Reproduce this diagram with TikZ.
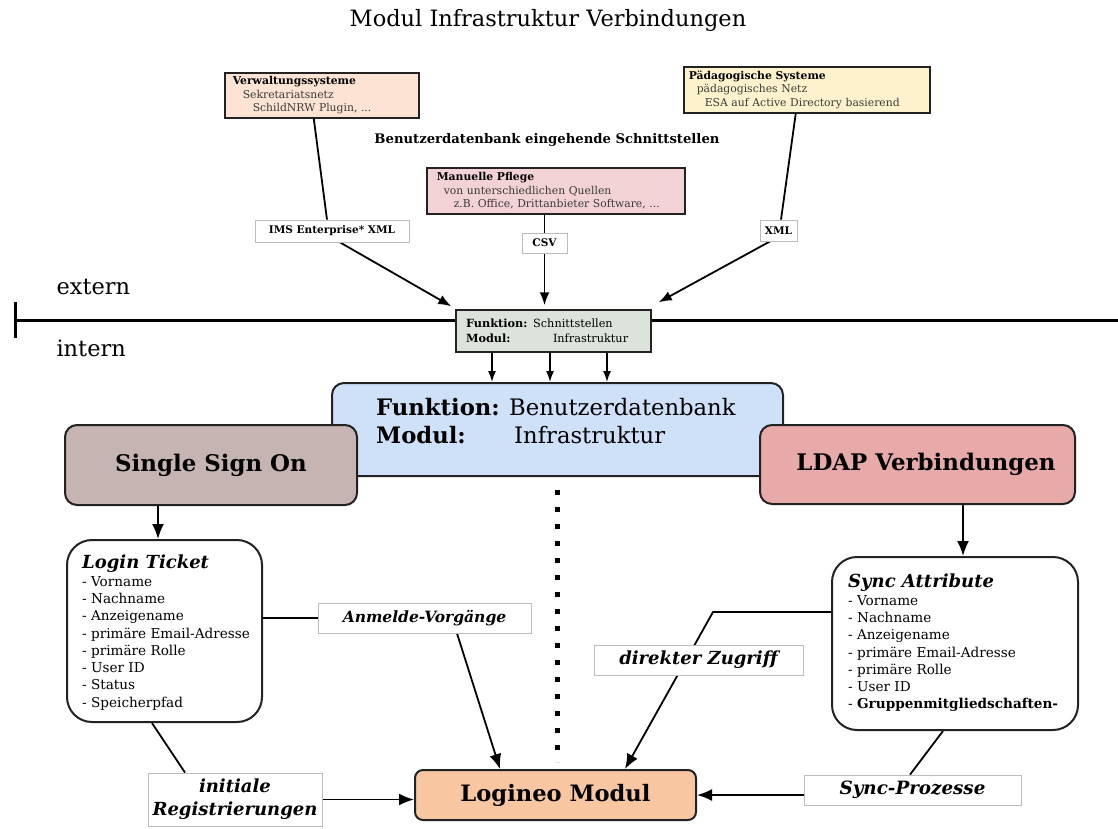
\documentclass[tikz,border=0pt]{standalone}
\usepackage{fontspec}
\setmainfont{DejaVu Serif}
\usetikzlibrary{arrows.meta,calc}
\definecolor{verwC}{HTML}{FCE3D3}
\definecolor{manC}{HTML}{F2D2D4}
\definecolor{paedC}{HTML}{FEF2CC}
\definecolor{schnittC}{HTML}{DCE3DB}
\definecolor{bdbC}{HTML}{CFE1F9}
\definecolor{ssoC}{HTML}{C5B4B2}
\definecolor{ldapC}{HTML}{E8A9A9}
\definecolor{logC}{HTML}{F9C6A2}
\definecolor{boxline}{HTML}{222222}
\definecolor{subtext}{HTML}{3A3A3A}
\definecolor{lblline}{HTML}{BBBBBB}
\pgfdeclarelayer{bg}
\pgfsetlayers{bg,main}
\begin{document}
\begin{tikzpicture}[x=1pt,y=-1pt,
  smallbox/.style={draw=boxline, line width=1.5pt, inner ysep=0pt, anchor=north west, align=left,
    font=\fontsize{10.8}{13.5}\selectfont},
  toplabel/.style={draw=lblline, line width=0.8pt, fill=white, inner sep=0pt,
    font=\fontsize{10.5}{12}\selectfont\bfseries},
  biglabel/.style={draw=lblline, line width=0.8pt, fill=white, inner sep=0pt, align=center,
    font=\fontsize{#1}{23}\selectfont\bfseries\itshape},
  mainbox/.style={draw=boxline, line width=2pt, rounded corners=12pt, inner sep=0pt},
  listbox/.style={draw=boxline, line width=2pt, fill=white, rounded corners=25pt, inner sep=0pt},
  listtext/.style={anchor=north west, inner sep=0pt, align=left, font=\fontsize{13.6}{17.3}\selectfont},
  conn/.style={line width=1.8pt, draw=black},
  bigarrow/.style={conn, -{Latex[length=15pt,width=12pt]}},
  smallarrow/.style={conn, -{Latex[length=13pt,width=10pt]}},
  tinyarrow/.style={line width=1.5pt, -{Latex[length=11pt,width=8pt]}}
]
\useasboundingbox (0,0) rectangle (1118,828);

% title
\node (title) at (548,20) {\fontsize{22.5}{26}\selectfont Modul Infrastruktur Verbindungen};

% source boxes
\node[smallbox, fill=verwC, inner xsep=8pt, text width=178pt, minimum height=45pt] (verw) at (224,72)
  {\textbf{Verwaltungssysteme}\\\color{subtext}\hspace*{10pt}Sekretariatsnetz\\\color{subtext}\hspace*{20pt}SchildNRW Plugin, ...};
\node[smallbox, fill=manC, inner xsep=10pt, text width=238pt, minimum height=46pt] (man) at (426,167)
  {\textbf{Manuelle Pflege}\\\color{subtext}\hspace*{7pt}von unterschiedlichen Quellen\\\color{subtext}\hspace*{17pt}z.B. Office, Drittanbieter Software, ...};
\node[smallbox, fill=paedC, inner xsep=5pt, text width=236pt, minimum height=46pt] (paed) at (683,66)
  {\textbf{Pädagogische Systeme}\\\color{subtext}\hspace*{8pt}pädagogisches Netz\\\color{subtext}\hspace*{16pt}ESA auf Active Directory basierend};

\node[font=\fontsize{13.2}{16}\selectfont\bfseries] (heading) at (547,140) {Benutzerdatenbank eingehende Schnittstellen};

% format labels
\node[toplabel, minimum width=154pt, minimum height=22pt] (ims) at (332,231) {IMS Enterprise* XML};
\node[toplabel, minimum width=45pt, minimum height=20pt] (csv) at (544.5,243) {CSV};
\node[toplabel, minimum width=37pt, minimum height=21pt] (xml) at (778.5,230.5) {XML};

% extern / intern
\node[anchor=west, font=\fontsize{22.5}{26}\selectfont] (extern) at (53,287) {extern};
\node[anchor=west, font=\fontsize{22.5}{26}\selectfont] (intern) at (53,348) {intern};
\coordinate (lineL) at (15,320);
\coordinate (lineR) at (1118,320);
\coordinate (barT) at (15,302);
\coordinate (barB) at (15,338);

% Schnittstellen box
\node[draw=boxline, line width=1.5pt, fill=schnittC, inner xsep=10pt, inner ysep=0pt, text width=175pt,
  minimum height=42pt, align=left, font=\fontsize{11.3}{15}\selectfont] (schnitt) at (553.5,331)
  {\textbf{Funktion:} Schnittstellen\\\makebox[87pt][l]{\textbf{Modul:}}Infrastruktur};

% Benutzerdatenbank
\node[mainbox, fill=bdbC, minimum width=451pt, minimum height=93pt] (bdb) at (557.5,429.5) {};
\node[anchor=north west, inner sep=0pt, align=left, font=\fontsize{22.7}{28}\selectfont] (bdbtxt)
  at ([xshift=45pt,yshift=-16pt]bdb.north west)
  {\makebox[133pt][l]{\textbf{Funktion:}}Benutzerdatenbank\\\makebox[138pt][l]{\textbf{Modul:}}Infrastruktur};

% SSO / LDAP
\node[mainbox, fill=ssoC, minimum width=292pt, minimum height=80pt, font=\fontsize{22.9}{26}\selectfont\bfseries] (sso) at (211,465) {Single Sign On};
\node[mainbox, fill=ldapC, minimum width=315pt, minimum height=79pt, font=\fontsize{22.9}{26}\selectfont\bfseries] (ldap) at (917.5,464.5) {\hspace*{17pt}LDAP Verbindungen};

% attribute boxes
\node[listbox, minimum width=195pt, minimum height=182pt] (login) at (164.5,631) {};
\node[listtext] (logintxt) at ([xshift=16pt,yshift=-16pt]login.north west)
  {{\fontsize{18}{21}\selectfont\bfseries\itshape Login Ticket}\\- Vorname\\- Nachname\\- Anzeigename\\- primäre Email-Adresse\\- primäre Rolle\\- User ID\\- Status\\- Speicherpfad};
\node[listbox, minimum width=246pt, minimum height=173pt] (sync) at (955,643.5) {};
\node[listtext] (synctxt) at ([xshift=17pt,yshift=-18pt]sync.north west)
  {{\fontsize{18}{21}\selectfont\bfseries\itshape Sync Attribute}\\- Vorname\\- Nachname\\- Anzeigename\\- primäre Email-Adresse\\- primäre Rolle\\- User ID\\- \textbf{Gruppenmitgliedschaften-}};

% process labels
\node[biglabel=15.5, minimum width=213pt, minimum height=30pt] (anm) at (424.5,618) {Anmelde-Vorgänge};
\node[biglabel=18, minimum width=209pt, minimum height=30pt] (dz) at (698.5,660) {direkter Zugriff};
\node[biglabel=18, minimum width=174pt, minimum height=53pt] (init) at (235,799.5) {initiale\\Registrierungen};
\node[biglabel=18.3, minimum width=217pt, minimum height=30pt] (sp) at (912.5,790) {Sync-Prozesse};

% Logineo
\node[draw=boxline, line width=2pt, rounded corners=8pt, fill=logC, minimum width=281pt, minimum height=50pt,
  font=\fontsize{22.6}{26}\selectfont\bfseries] (logineo) at (555.5,795) {Logineo Modul};

% helper coordinates
\coordinate (s1) at ([xshift=-61.5pt]schnitt.south);
\coordinate (s2) at ([xshift=-3.5pt]schnitt.south);
\coordinate (s3) at ([xshift=53.5pt]schnitt.south);
\coordinate (ssoA) at ([xshift=-53pt]sso.south);
\coordinate (ldapA) at ([xshift=45.5pt]ldap.south);
\coordinate (dz1) at ([yshift=31.5pt]sync.west);
\coordinate (dzk) at (713,612);
\coordinate (dtop) at (557,490);
\coordinate (dbot) at (557,762);
\coordinate (spA) at ([yshift=-5pt]sp.west);

\begin{pgfonlayer}{bg}
  \draw[line width=3pt] (lineL) -- (lineR);
  \draw[line width=3pt] (barT) -- (barB);
  \draw[conn] ([xshift=-8pt]verw.south) -- ([xshift=-5pt]ims.north);
  \draw[smallarrow] ([xshift=8pt]ims.south) -- ([xshift=-4pt,yshift=3pt]schnitt.north west);
  \draw[conn] (csv.north) -- (csv.north |- man.south);
  \draw[smallarrow, shorten >=4pt] (csv.south) -- (csv.south |- schnitt.north);
  \draw[conn] ([xshift=-11pt]paed.south) -- ([xshift=2.5pt]xml.north);
  \draw[smallarrow] ([xshift=-8.5pt]xml.south) -- ([xshift=7pt,yshift=7pt]schnitt.north east);
  \draw[tinyarrow] (s1) -- (s1 |- bdb.north);
  \draw[tinyarrow] (s2) -- (s2 |- bdb.north);
  \draw[tinyarrow] (s3) -- (s3 |- bdb.north);
  \draw[bigarrow] (ssoA) -- (ssoA |- login.north);
  \draw[bigarrow] (ldapA) -- (ldapA |- sync.north);
  \draw[conn] (anm.west) -- (anm.west -| login.east);
  \draw[bigarrow] ([xshift=32.5pt]anm.south) -- ([xshift=-55.5pt]logineo.north);
  \draw[bigarrow] (dz1) -- (dzk) -- ([xshift=69.5pt]logineo.north);
  \draw[conn] ([xshift=-12.5pt]login.south) -- ([xshift=-50pt]init.north);
  \draw[bigarrow] (init.east) -- (init.east -| logineo.west);
  \draw[conn] ([xshift=-12pt]sync.south) -- ([xshift=-2.5pt]sp.north);
  \draw[bigarrow] (spA) -- (spA -| logineo.east);
  \draw[line width=5pt, dash pattern=on 5pt off 12pt] (dtop) -- (dbot);
\end{pgfonlayer}
\end{tikzpicture}
\end{document}
